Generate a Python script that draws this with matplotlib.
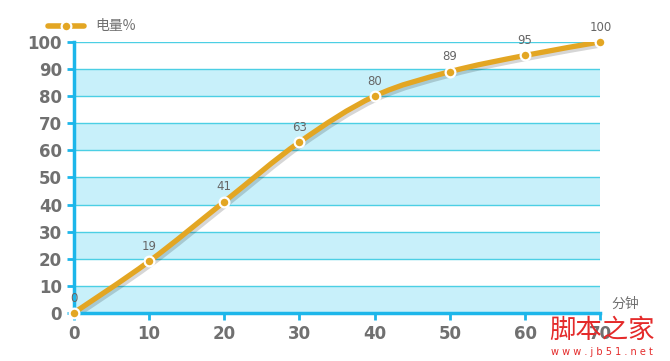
import numpy as np
import matplotlib.pyplot as plt
from matplotlib.path import Path
from matplotlib.patches import PathPatch
import matplotlib.transforms as mtransforms

plt.rcParams['font.family'] = ['Noto Sans CJK SC', 'DejaVu Sans']

# battery charge over time
minutes = [0, 10, 20, 30, 40, 50, 60, 70]
charge = [0, 19, 41, 63, 80, 89, 95, 100]
y_ticks = list(range(0, 101, 10))
legend_label = "电量%"
x_label = "分钟"

orange = "#e3a623"
grid_blue = "#4ccfe4"
axis_blue = "#1cb6ea"
band_blue = "#c8f0fa"
text_grey = "#707070"


def smooth_path(xs, ys, t=0.17):
    """Catmull-Rom style bezier path through the points."""
    verts = [(xs[0], ys[0])]
    codes = [Path.MOVETO]
    n = len(xs)
    for i in range(n - 1):
        x0, y0 = xs[max(i - 1, 0)], ys[max(i - 1, 0)]
        x1, y1 = xs[i], ys[i]
        x2, y2 = xs[i + 1], ys[i + 1]
        x3, y3 = xs[min(i + 2, n - 1)], ys[min(i + 2, n - 1)]
        c1 = (x1 + (x2 - x0) * t, y1 + (y2 - y0) * t)
        c2 = (x2 - (x3 - x1) * t, y2 - (y3 - y1) * t)
        verts += [c1, c2, (x2, y2)]
        codes += [Path.CURVE4] * 3
    return Path(verts, codes)


fig = plt.figure(figsize=(6.7, 3.61), dpi=100)
ax = fig.add_axes([0.110, 0.133, 0.786, 0.751])
ax.set_xlim(0, 70)
ax.set_ylim(0, 100)

# alternating bands
for i, lo in enumerate(y_ticks[:-1]):
    if i % 2 == 0:
        ax.axhspan(lo, lo + 10, color=band_blue, lw=0, zorder=0)
for yv in y_ticks[1:]:
    ax.axhline(yv, color=grid_blue, lw=1, zorder=1)

path = smooth_path(minutes, charge)
shadow = mtransforms.offset_copy(ax.transData, fig=fig, x=1.5, y=-2.0, units='points')
ax.add_patch(PathPatch(path, fill=False, ec="#000000", lw=3.8, alpha=0.16,
                       transform=shadow, zorder=2, capstyle='round'))
ax.add_patch(PathPatch(path, fill=False, ec=orange, lw=3.8, zorder=3,
                       capstyle='round', joinstyle='round'))
ax.plot(minutes, charge, 'o', ms=7, mfc=orange, mec="white", mew=1.6,
        zorder=4, clip_on=False)

for xv, yv in zip(minutes, charge):
    ax.annotate(str(yv), (xv, yv), xytext=(0, 6), textcoords='offset points',
                ha='center', va='bottom', fontsize=8.5, color="#666666",
                family='DejaVu Sans', zorder=5)

for s in ['top', 'right']:
    ax.spines[s].set_visible(False)
for s in ['left', 'bottom']:
    ax.spines[s].set_color(axis_blue)
    ax.spines[s].set_linewidth(2.5)
    ax.spines[s].set_zorder(3.5)

ax.set_xticks(minutes)
ax.set_yticks(y_ticks)
ax.tick_params(axis='both', colors=axis_blue, width=2, length=5,
               labelcolor=text_grey, labelsize=12)
for lab in ax.get_xticklabels() + ax.get_yticklabels():
    lab.set_fontweight('bold')
    lab.set_family('DejaVu Sans')

# legend
fig.lines.append(plt.Line2D([0.072, 0.125], [0.928, 0.928], transform=fig.transFigure,
                            color=orange, lw=4, solid_capstyle='round'))
fig.lines.append(plt.Line2D([0.0985], [0.928], transform=fig.transFigure, marker='o',
                            ms=7, mfc=orange, mec='white', mew=1.6))
fig.text(0.142, 0.928, legend_label, fontsize=10, color=text_grey, va='center')

fig.text(0.912, 0.140, x_label, fontsize=10, color=text_grey, va='bottom')

# watermark
fig.text(0.899, 0.085, "脚本之家", fontsize=19, color="#e42a2a", ha='center',
         va='center', zorder=10)
fig.text(0.899, 0.026, "w w w . j b 5 1 . n e t", fontsize=7, color="#e42a2a",
         ha='center', va='center', family='DejaVu Sans')

fig.savefig("out.png", dpi=100)
